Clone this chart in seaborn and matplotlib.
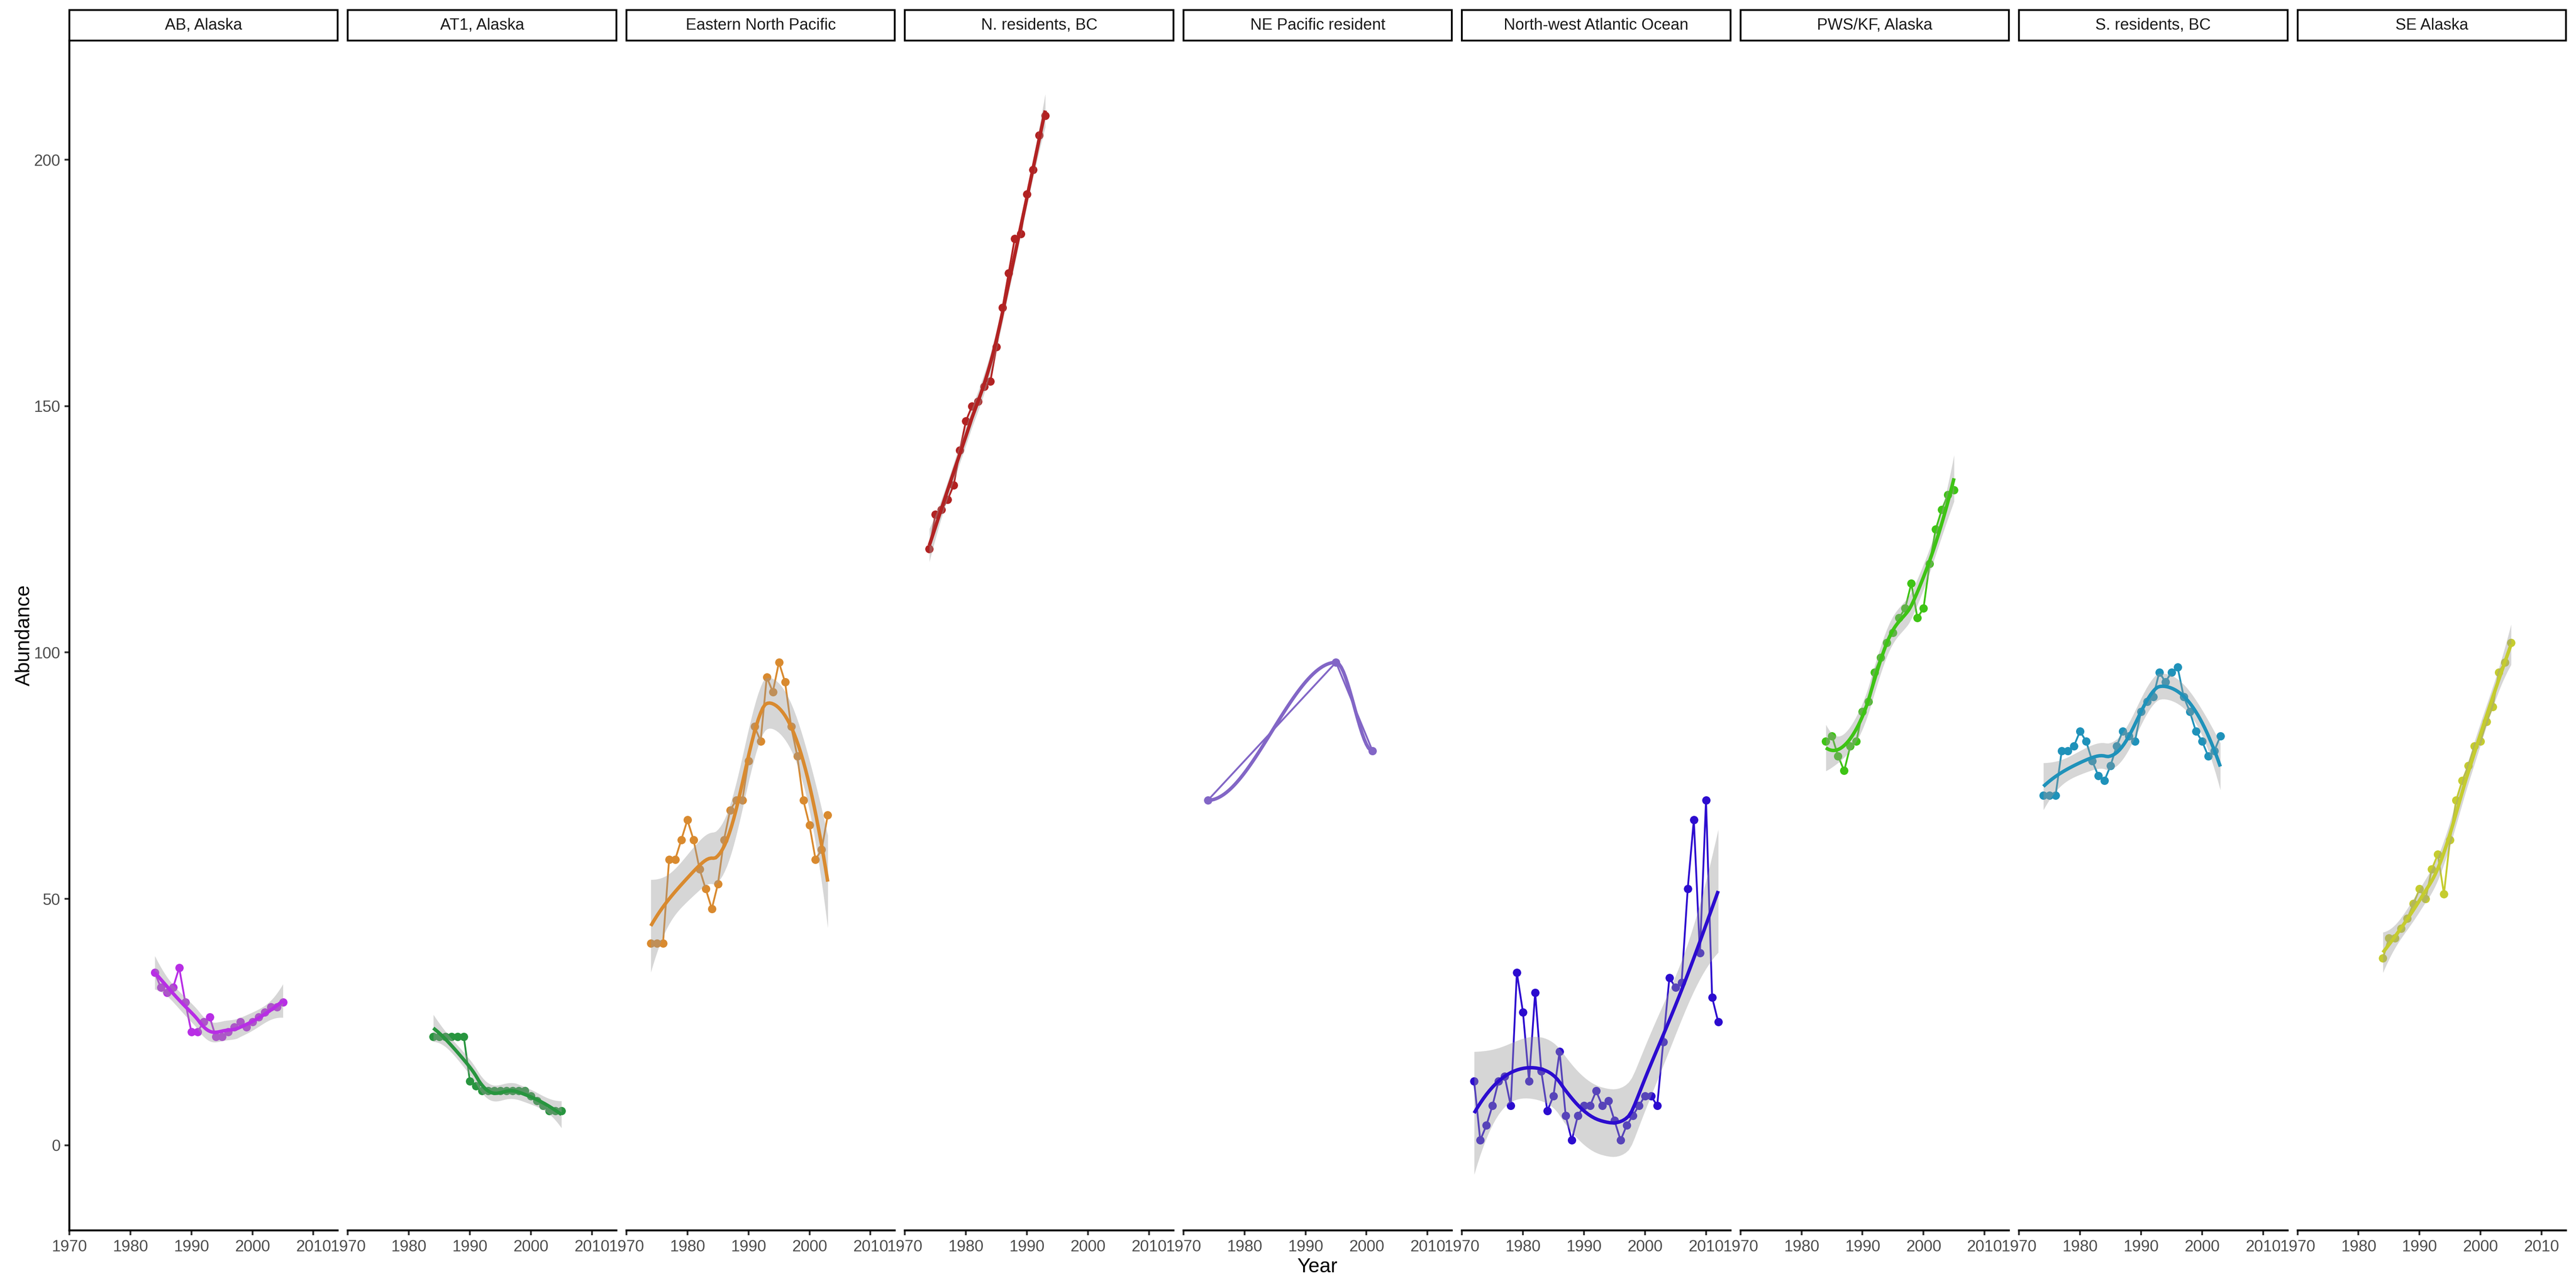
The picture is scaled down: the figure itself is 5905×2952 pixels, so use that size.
import numpy as np
import pandas as pd
import matplotlib
matplotlib.use("Agg")
from matplotlib import pyplot as plt
from matplotlib.patches import Rectangle
import seaborn as sns

# population names (facet order) and line colours
populations = ["AB, Alaska", "AT1, Alaska", "Eastern North Pacific", "N. residents, BC",
               "NE Pacific resident", "North-west Atlantic Ocean", "PWS/KF, Alaska",
               "S. residents, BC", "SE Alaska"]
pop_colors = ["#B82EE5", "#28953F", "#D98A2F", "#B22222", "#8266C6",
              "#2C0CCF", "#3EC415", "#1F92BA", "#C5CC2F"]

# abundance series
ab_years = [1984, 1985, 1986, 1987, 1988, 1989, 1990, 1991, 1992, 1993, 1994,
            1995, 1996, 1997, 1998, 1999, 2000, 2001, 2002, 2003, 2004, 2005]
ab_counts = [35, 32, 31, 32, 36, 29, 23, 23, 25, 26, 22, 22, 23, 24, 25, 24, 25, 26, 27, 28, 28, 29]

at1_years = [1984, 1985, 1986, 1987, 1988, 1989, 1990, 1991, 1992, 1993, 1994,
             1995, 1996, 1997, 1998, 1999, 2000, 2001, 2002, 2003, 2004, 2005]
at1_counts = [22, 22, 22, 22, 22, 22, 13, 12, 11, 11, 11, 11, 11, 11, 11, 11, 10, 9, 8, 7, 7, 7]

enp_years = [1974, 1975, 1976, 1977, 1978, 1979, 1980, 1981, 1982, 1983, 1984, 1985, 1986, 1987, 1988,
             1989, 1990, 1991, 1992, 1993, 1994, 1995, 1996, 1997, 1998, 1999, 2000, 2001, 2002, 2003]
enp_counts = [41, 41, 41, 58, 58, 62, 66, 62, 56, 52, 48, 53, 62, 68, 70,
              70, 78, 85, 82, 95, 92, 98, 94, 85, 79, 70, 65, 58, 60, 67]

nres_years = [1974, 1975, 1976, 1977, 1978, 1979, 1980, 1981, 1982, 1983,
              1984, 1985, 1986, 1987, 1988, 1989, 1990, 1991, 1992, 1993]
nres_counts = [121, 128, 129, 131, 134, 141, 147, 150, 151, 154,
               155, 162, 170, 177, 184, 185, 193, 198, 205, 209]

nep_years = [1974, 1995, 2001]
nep_counts = [70, 98, 80]

nwa_years = [1972, 1973, 1974, 1975, 1976, 1977, 1978, 1979, 1980, 1981, 1982, 1983, 1984, 1985,
             1986, 1987, 1988, 1989, 1990, 1991, 1992, 1993, 1994, 1995, 1996, 1997, 1998, 1999,
             2000, 2001, 2002, 2003, 2004, 2005, 2006, 2007, 2008, 2009, 2010, 2011, 2012]
nwa_counts = [13, 1, 4, 8, 13, 14, 8, 35, 27, 13, 31, 15, 7, 10,
              19, 6, 1, 6, 8, 8, 11, 8, 9, 5, 1, 4, 6, 8,
              10, 10, 8, 21, 34, 32, 33, 52, 66, 39, 70, 30, 25]

pws_years = [1984, 1985, 1986, 1987, 1988, 1989, 1990, 1991, 1992, 1993, 1994,
             1995, 1996, 1997, 1998, 1999, 2000, 2001, 2002, 2003, 2004, 2005]
pws_counts = [82, 83, 79, 76, 81, 82, 88, 90, 96, 99, 102,
              104, 107, 109, 114, 107, 109, 118, 125, 129, 132, 133]

sres_years = [1974, 1975, 1976, 1977, 1978, 1979, 1980, 1981, 1982, 1983, 1984, 1985, 1986, 1987, 1988,
              1989, 1990, 1991, 1992, 1993, 1994, 1995, 1996, 1997, 1998, 1999, 2000, 2001, 2002, 2003]
sres_counts = [71, 71, 71, 80, 80, 81, 84, 82, 78, 75, 74, 77, 81, 84, 83,
               82, 88, 90, 91, 96, 94, 96, 97, 91, 88, 84, 82, 79, 80, 83]

sea_years = [1984, 1985, 1986, 1987, 1988, 1989, 1990, 1991, 1992, 1993, 1994,
             1995, 1996, 1997, 1998, 1999, 2000, 2001, 2002, 2003, 2004, 2005]
sea_counts = [38, 42, 42, 44, 46, 49, 52, 50, 56, 59, 51,
              62, 70, 74, 77, 81, 82, 86, 89, 96, 98, 102]

year_ticks = [1970, 1980, 1990, 2000, 2010]
abundance_ticks = [0, 50, 100, 150, 200]


def t_quantile(df, z=1.959964):
    # Cornish-Fisher approximation of qt(0.975, df), no scipy here
    return (z + (z**3 + z) / (4 * df) + (5 * z**5 + 16 * z**3 + 3 * z) / (96 * df**2)
            + (3 * z**7 + 19 * z**5 + 17 * z**3 - 15 * z) / (384 * df**3))


def loess_smooth(x, y, n_grid=80, span=0.75):
    # local quadratic fit with tricube weights, like geom_smooth's default loess
    x = np.asarray(x, float)
    y = np.asarray(y, float)
    n = len(x)
    xg = np.linspace(x.min(), x.max(), n_grid)

    if n < 5:
        # too few points for loess: vertex interpolation with flat tangents
        fit = np.interp(xg, x, y)
        for i in range(n - 1):
            m = (xg >= x[i]) & (xg <= x[i + 1])
            t = (xg[m] - x[i]) / (x[i + 1] - x[i])
            fit[m] = y[i] + (y[i + 1] - y[i]) * (3 * t**2 - 2 * t**3)
        return xg, fit, None, None

    q = int(np.floor(n * span))

    def row(x0):
        d = np.abs(x - x0)
        ds = np.sort(d)
        h = ds[q - 1] if q >= n else 0.5 * (ds[q - 1] + ds[q])
        w = np.clip(1 - (d / h)**3, 0, None)**3
        X = np.vstack([np.ones(n), x - x0, (x - x0)**2]).T
        XtW = X.T * w
        return np.linalg.solve(XtW @ X, XtW)[0]

    L = np.array([row(xi) for xi in x])
    Lg = np.array([row(x0) for x0 in xg])
    fit = Lg @ y
    res = y - L @ y
    M = (np.eye(n) - L).T @ (np.eye(n) - L)
    d1 = np.trace(M)
    d2 = np.trace(M @ M)
    s = np.sqrt(np.sum(res**2) / d1)
    se = s * np.sqrt(np.sum(Lg**2, axis=1))
    tq = t_quantile(d1**2 / d2)
    return xg, fit, fit - tq * se, fit + tq * se


def main():
    series = [(ab_years, ab_counts), (at1_years, at1_counts), (enp_years, enp_counts),
              (nres_years, nres_counts), (nep_years, nep_counts), (nwa_years, nwa_counts),
              (pws_years, pws_counts), (sres_years, sres_counts), (sea_years, sea_counts)]
    frames = []
    for name, (yrs, cnt) in zip(populations, series):
        frames.append(pd.DataFrame({"Population": name, "Year": yrs, "Abundance": cnt}))
    df = pd.concat(frames, ignore_index=True)

    sns.set_theme(style="ticks")
    plt.rcParams['font.family'] = ['Liberation Sans', 'DejaVu Sans']

    fig, axes = plt.subplots(1, 9, figsize=(5905 / 300, 2952 / 300), dpi=300, sharey=True)
    fig.subplots_adjust(left=159 / 5905, right=5882 / 5905, bottom=132 / 2952,
                        top=1 - 93 / 2952, wspace=23 / 615)

    strip_h = 70 / 2727
    for i, (ax, name, col) in enumerate(zip(axes, populations, pop_colors)):
        sub = df[df["Population"] == name]

        sns.lineplot(data=sub, x="Year", y="Abundance", color=col, linewidth=1.0,
                     estimator=None, ax=ax, zorder=2)
        sns.scatterplot(data=sub, x="Year", y="Abundance", color=col, s=21,
                        linewidth=0, ax=ax, zorder=3)

        xg, fit, lo, hi = loess_smooth(sub["Year"], sub["Abundance"])
        if lo is not None:
            ax.fill_between(xg, lo, hi, color="#999999", alpha=0.4, linewidth=0, zorder=4)
        ax.plot(xg, fit, color=col, linewidth=1.9, zorder=5, solid_capstyle="butt")

        ax.set_xlim(1970, 2014)
        ax.set_ylim(-17.3, 224.2)
        ax.set_xticks(year_ticks)
        ax.set_yticks(abundance_ticks)
        ax.set_xlabel("")
        ax.set_ylabel("")

        # facet strip on top of each panel
        ax.add_patch(Rectangle((0, 1.0), 1, strip_h, transform=ax.transAxes, clip_on=False,
                               facecolor="white", edgecolor="black", linewidth=1.0, zorder=10))
        ax.text(0.5, 1.0 + strip_h / 2, name, transform=ax.transAxes, ha="center",
                va="center", fontsize=8.8, color="#1A1A1A", zorder=11)

        for side in ["top", "right"]:
            ax.spines[side].set_visible(False)
        ax.spines["bottom"].set_linewidth(1.07)
        ax.spines["bottom"].set_color("black")
        ax.spines["left"].set_linewidth(1.07)
        ax.spines["left"].set_color("black")
        ax.tick_params(axis="both", length=2.75, width=1.0, color="#333333",
                       labelsize=8.8, labelcolor="#4D4D4D", pad=2.2)
        if i > 0:
            ax.spines["left"].set_visible(False)
            ax.tick_params(axis="y", left=False, labelleft=False)

    fig.text(0.5114, 0.0163, "Year", ha="center", va="center", fontsize=11, color="black")
    fig.text(56 / 5905, 1 - 1456 / 2952, "Abundance", ha="center", va="center",
             rotation=90, fontsize=11, color="black")

    fig.savefig("out.png", dpi=300, facecolor="white")


if __name__ == '__main__':
    main()
